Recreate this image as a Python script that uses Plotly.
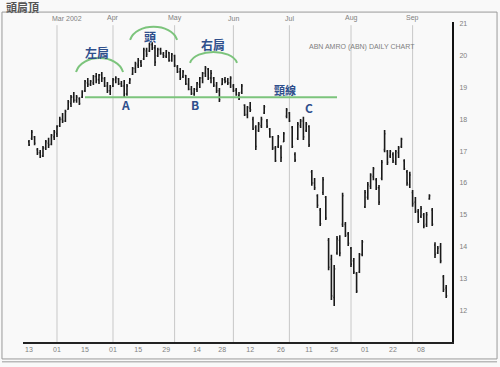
import plotly.graph_objects as go

# trading-day position of each bar (0 = 1 Mar 2002)
day = list(range(-10, 140))

high = [17.35,17.67,17.48,17.10,17.04,17.16,17.35,17.42,17.54,17.67,
        17.82,18.08,18.20,18.30,18.61,18.77,18.86,18.77,18.70,18.92,
        19.24,19.30,19.24,19.40,19.46,19.43,19.49,19.33,19.18,19.08,
        19.30,19.36,19.30,19.21,19.24,19.11,19.30,19.65,19.81,19.93,
        19.87,20.25,20.25,20.40,20.43,20.34,20.25,20.25,20.12,20.18,
        20.12,20.09,20.03,19.71,19.62,19.55,19.40,19.30,19.05,18.99,
        19.18,19.33,19.49,19.68,19.62,19.55,19.33,19.18,18.99,19.30,
        19.33,19.30,19.36,19.11,18.99,18.86,19.11,18.48,18.42,18.55,
        18.08,17.82,17.92,18.08,18.45,18.01,17.73,17.48,17.16,17.51,
        17.19,17.60,18.36,18.23,17.79,16.97,17.92,18.01,18.08,17.92,
        17.82,16.41,16.16,15.65,15.21,16.19,15.59,14.27,13.74,13.42,
        14.33,14.36,15.69,14.77,14.46,13.99,13.64,13.20,13.80,14.21,
        15.78,16.03,16.31,16.50,16.16,15.94,16.72,17.67,17.04,17.04,
        16.97,17.04,17.16,17.42,16.75,16.41,16.35,15.78,15.56,15.18,
        15.28,15.06,15.09,15.65,15.21,14.14,14.02,14.11,13.11,12.79]
low = [17.16,17.35,17.19,16.88,16.79,16.82,17.04,17.10,17.19,17.35,
       17.45,17.76,17.89,17.92,18.30,18.39,18.52,18.52,18.45,18.67,
       18.86,19.02,19.05,19.08,19.14,19.11,19.18,19.02,18.83,18.77,
       19.02,19.14,19.08,19.02,18.70,18.74,19.11,19.40,19.46,19.62,
       19.65,19.87,19.96,20.12,20.18,19.68,19.96,20.03,19.93,19.93,
       19.81,19.81,19.65,19.46,19.24,19.30,19.08,18.92,18.77,18.74,
       18.86,18.99,19.14,19.33,19.24,19.14,19.02,18.83,18.55,19.08,
       19.14,19.08,18.99,18.86,18.74,18.61,18.80,18.11,18.04,18.23,
       17.67,17.04,17.60,17.73,18.17,17.73,17.42,17.04,16.66,17.10,
       16.66,17.29,18.04,17.92,17.10,16.66,17.35,17.73,17.35,17.60,
       17.13,15.91,15.78,15.21,14.65,15.62,14.84,13.26,12.32,12.13,
       13.74,13.70,14.62,14.30,14.02,13.36,13.14,12.54,13.17,13.70,
       15.21,15.47,15.81,16.09,15.78,15.31,16.09,16.97,16.57,16.79,
       16.63,16.57,16.79,17.10,16.41,15.91,15.84,15.25,15.06,14.74,
       14.90,14.58,14.62,15.47,14.65,13.64,13.77,13.48,12.57,12.38]
open_ = [17.30,17.40,17.45,17.05,16.95,16.85,17.10,17.25,17.22,17.45,
         17.55,17.80,18.00,17.95,18.32,18.50,18.70,18.60,18.65,18.70,
         18.90,19.15,19.10,19.15,19.35,19.25,19.40,19.28,19.05,18.90,
         19.05,19.25,19.28,19.12,19.05,18.80,19.15,19.42,19.60,19.70,
         19.80,19.90,20.15,20.15,20.35,20.25,20.00,20.20,20.05,19.98,
         20.10,19.85,20.00,19.65,19.50,19.35,19.38,19.10,18.95,18.80,
         18.95,19.10,19.30,19.45,19.58,19.30,19.30,19.05,18.90,19.10,
         19.25,19.20,19.15,19.05,18.92,18.75,18.85,18.45,18.15,18.35,
         18.00,17.75,17.65,17.80,18.20,17.95,17.70,17.45,17.10,17.15,
         17.10,17.30,18.10,18.20,17.75,16.90,17.40,17.80,17.95,17.65,
         17.78,16.35,16.00,15.60,15.15,15.70,15.55,14.20,13.60,12.40,
         13.80,14.20,14.70,14.70,14.40,13.95,13.55,13.15,13.20,13.75,
         15.25,15.55,15.90,16.20,16.10,15.85,16.15,17.05,17.00,16.85,
         16.90,16.65,16.95,17.15,16.70,16.35,15.95,15.70,15.40,15.10,
         14.95,15.00,14.70,15.50,15.15,14.05,13.80,14.00,13.05,12.70]
close = [17.20,17.60,17.25,16.95,16.85,17.10,17.30,17.20,17.50,17.60,
         17.78,18.00,17.95,18.25,18.55,18.70,18.60,18.70,18.50,18.88,
         19.20,19.10,19.20,19.35,19.25,19.40,19.30,19.05,18.90,19.00,
         19.25,19.30,19.12,19.05,18.80,19.05,19.25,19.60,19.75,19.85,
         19.70,20.20,20.05,20.35,20.25,19.80,20.20,20.08,20.00,20.15,
         19.85,20.05,19.70,19.50,19.30,19.50,19.12,18.95,18.82,18.95,
         19.15,19.30,19.45,19.62,19.30,19.45,19.08,18.90,18.62,19.25,
         19.20,19.15,19.30,18.90,18.78,18.65,19.05,18.15,18.38,18.30,
         17.70,17.15,17.85,18.00,18.40,17.78,17.45,17.10,16.70,17.45,
         16.80,17.55,18.30,17.95,17.15,16.72,17.85,17.95,17.45,17.85,
         17.20,16.00,15.85,15.30,14.72,16.10,14.90,13.35,12.45,13.30,
         14.25,13.80,15.60,14.35,14.10,13.45,13.20,12.60,13.75,14.15,
         15.70,15.95,16.25,16.45,15.85,15.40,16.65,17.55,16.65,17.00,
         16.70,17.00,17.10,17.38,16.45,16.00,16.25,15.35,15.12,14.80,
         15.20,14.65,15.00,15.60,14.70,13.75,13.95,13.55,12.65,12.45]

month_pos = [0, 20, 42, 63, 83, 105, 127]
month_lbl_pos = [3.6, 20, 42, 63, 83, 105, 127]
month_lbl = ["Mar 2002", "Apr", "May", "Jun", "Jul", "Aug", "Sep"]
date_tick_pos = [-10, 0, 10, 20, 29, 39, 50, 59, 69, 80, 90, 99, 110, 120, 130]
date_tick_lbl = ["13", "01", "15", "01", "15", "29", "14", "28", "12", "26",
                 "11", "25", "01", "22", "08"]
price_ticks = [12, 13, 14, 15, 16, 17, 18, 19, 20, 21]

neck_level = 18.70
neck_span = [10, 100]

BLUE = "#2f4f8c"
GREEN = "#7cc47c"
GREY = "#808080"

fig = go.Figure()
fig.add_trace(go.Ohlc(
    x=day, open=open_, high=high, low=low, close=close,
    increasing=dict(line=dict(color="#1a1a1a", width=1.6)),
    decreasing=dict(line=dict(color="#1a1a1a", width=1.6)),
    tickwidth=0.35, hoverinfo="skip", showlegend=False))

shapes = []
for m in month_pos:
    shapes.append(dict(type="line", xref="x", yref="paper", x0=m, x1=m, y0=0, y1=0.99,
                       line=dict(color="#c8c8c8", width=1), layer="below"))
# neckline
shapes.append(dict(type="line", xref="x", yref="y", x0=neck_span[0], x1=neck_span[1],
                   y0=neck_level, y1=neck_level, line=dict(color=GREEN, width=2)))


def arc(x0, x1, yend, apex):
    w = x1 - x0
    c = (apex - 0.25 * yend) / 0.75
    return (f"M {x0},{yend} C {x0 + 0.12 * w},{c} {x1 - 0.12 * w},{c} {x1},{yend}")


for (a, b, ye, ap) in [(6.8, 23.6, 19.49, 19.93), (26.1, 42.9, 20.50, 20.91),
                       (47.5, 64.3, 19.78, 20.12)]:
    shapes.append(dict(type="path", xref="x", yref="y", path=arc(a, b, ye, ap),
                       line=dict(color=GREEN, width=2)))

# frame of the picture
shapes.append(dict(type="rect", xref="paper", yref="paper", x0=-0.049, x1=1.105,
                   y0=-0.053, y1=1.031, line=dict(color="#9a9a9a", width=1)))
shapes.append(dict(type="line", xref="paper", yref="paper", x0=-0.049, x1=1.105,
                   y0=-0.062, y1=-0.062, line=dict(color="#9a9a9a", width=1)))

ann = []
for p, t in zip(month_lbl_pos, month_lbl):
    ann.append(dict(x=p, y=1.012, xref="x", yref="paper", text=t, showarrow=False,
                    font=dict(size=7, color=GREY), xanchor="center", yanchor="middle"))
labels = [("左肩", 14.3, 20.09, 12), ("頭", 33.2, 20.62, 12), ("右肩", 55.7, 20.34, 12),
          ("A", 24.3, 18.48, 12), ("B", 49.3, 18.48, 12), ("頸線", 81.4, 18.92, 11),
          ("C", 90.0, 18.36, 12)]
for t, xx, yy, fs in labels:
    ann.append(dict(x=xx, y=yy, xref="x", yref="y", text=f"<b>{t}</b>", showarrow=False,
                    font=dict(size=fs, color=BLUE, family="Noto Sans CJK TC"),
                    xanchor="center", yanchor="middle"))
ann.append(dict(x=108.9, y=20.28, xref="x", yref="y", text="ABN AMRO (ABN) DAILY CHART",
                showarrow=False, font=dict(size=7, color=GREY)))
ann.append(dict(x=-0.045, y=1.048, xref="paper", yref="paper", text="<b>頭肩頂</b>",
                showarrow=False, xanchor="left", yanchor="middle",
                font=dict(size=11, color="#555555", family="Noto Sans CJK TC")))

fig.update_layout(
    width=500, height=367,
    margin=dict(l=23, r=48, t=22, b=25),
    paper_bgcolor="#f9f9f9", plot_bgcolor="#f9f9f9",
    font=dict(family="Liberation Sans, Arial", size=7, color=GREY),
    shapes=shapes, annotations=ann, showlegend=False,
    xaxis=dict(range=[-12.14, 141.07], showgrid=False, zeroline=False,
               tickvals=date_tick_pos, ticktext=date_tick_lbl, ticks="",
               showline=True, linecolor="#222222", linewidth=2,
               tickfont=dict(size=7, color=GREY), rangeslider=dict(visible=False)),
    yaxis=dict(range=[11.0, 21.063], side="right", showgrid=False, zeroline=False,
               tickvals=price_ticks, ticks="", showline=True, linecolor="#111111",
               linewidth=2, tickfont=dict(size=7, color=GREY), ticklabelstandoff=4),
)

fig.write_html("out.html", config={"displayModeBar": False},
               post_script="document.body.style.margin='0';")
